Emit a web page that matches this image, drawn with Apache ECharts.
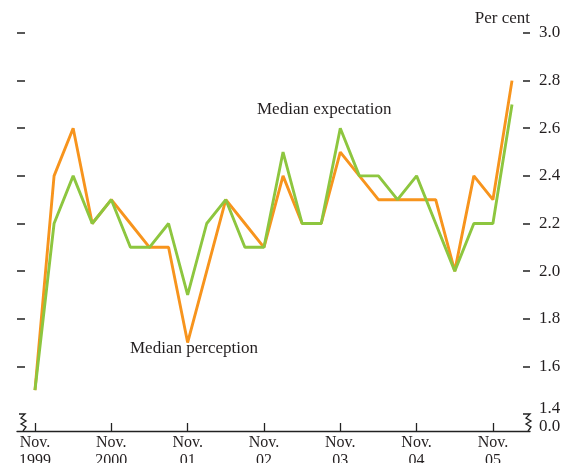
<!DOCTYPE html>
<html>
<head>
<meta charset="utf-8">
<script src="https://cdn.jsdelivr.net/npm/echarts@6/dist/echarts.min.js"></script>
<style>
  html, body { margin: 0; padding: 0; background: #fff; }
  #chart { width: 563px; height: 463px; }
</style>
</head>
<body>
<div id="chart"></div>
<script>
// quarterly survey, Nov 1999 to Feb 2006
var quarters = ['Nov 1999', 'Feb 2000', 'May 2000', 'Aug 2000', 'Nov 2000', 'Feb 2001', 'May 2001', 'Aug 2001',
    'Nov 2001', 'Feb 2002', 'May 2002', 'Aug 2002', 'Nov 2002', 'Feb 2003', 'May 2003', 'Aug 2003',
    'Nov 2003', 'Feb 2004', 'May 2004', 'Aug 2004', 'Nov 2004', 'Feb 2005', 'May 2005', 'Aug 2005',
    'Nov 2005', 'Feb 2006'];
var perception = [1.5, 2.4, 2.6, 2.2, 2.3, 2.2, 2.1, 2.1, 1.7, 2.0, 2.3, 2.2, 2.1,
    2.4, 2.2, 2.2, 2.5, 2.4, 2.3, 2.3, 2.3, 2.3, 2.0, 2.4, 2.3, 2.8];
var expectation = [1.5, 2.2, 2.4, 2.2, 2.3, 2.1, 2.1, 2.2, 1.9, 2.2, 2.3, 2.1, 2.1,
    2.5, 2.2, 2.2, 2.6, 2.4, 2.4, 2.3, 2.4, 2.2, 2.0, 2.2, 2.2, 2.7];
var xTickIndex = [0, 4, 8, 12, 16, 20, 24];
var xTickLabels = ['Nov.\n1999', 'Nov.\n2000', 'Nov.\n01', 'Nov.\n02', 'Nov.\n03', 'Nov.\n04', 'Nov.\n05'];
var yTicks = [1.6, 1.8, 2.0, 2.2, 2.4, 2.6, 2.8, 3.0];

var font = '"Liberation Serif", serif';
var textColor = '#231f20';

function pairs(values) {
    var out = [];
    for (var i = 0; i < values.length; i++) {
        out.push([i, values[i]]);
    }
    return out;
}

// axis break zigzag
function breakLine(x0, x1) {
    return [[x0, 414], [x1, 414], [x1 - 4, 418], [x1 + 1, 421], [x1 - 4, 424], [x1 + 1, 427], [x1 - 2, 431]];
}

var myChart = echarts.init(document.getElementById('chart'), null, { renderer: 'canvas' });

var option = {
    animation: false,
    backgroundColor: '#fff',
    textStyle: { fontFamily: font },
    grid: { left: 17, right: 33, top: 33, bottom: 49, containLabel: false, outerBoundsMode: 'none' },
    xAxis: {
        type: 'value',
        min: -0.943,
        max: 25.943,
        offset: 17,
        splitLine: { show: false },
        axisLine: { show: true, onZero: false, lineStyle: { color: '#222', width: 1.3 } },
        axisTick: {
            show: true, inside: true, length: 8,
            customValues: xTickIndex,
            lineStyle: { color: '#222', width: 1.3 }
        },
        axisLabel: {
            customValues: xTickIndex,
            margin: 3,
            color: textColor,
            fontFamily: font,
            fontSize: 16,
            lineHeight: 18,
            formatter: function (v) {
                var k = xTickIndex.indexOf(Math.round(v));
                return k >= 0 ? xTickLabels[k] : '';
            }
        }
    },
    yAxis: [
        {
            type: 'value',
            position: 'right',
            min: 1.4,
            max: 3.0,
            interval: 0.2,
            splitLine: { show: false },
            axisLine: { show: false, onZero: false },
            axisTick: {
                show: true, inside: true, length: 7,
                customValues: yTicks,
                lineStyle: { color: '#222', width: 1.5 }
            },
            axisLabel: {
                customValues: yTicks,
                margin: 9,
                color: textColor,
                fontFamily: font,
                fontSize: 17,
                formatter: function (v) { return v.toFixed(1); }
            }
        },
        {
            type: 'value',
            position: 'left',
            min: 1.4,
            max: 3.0,
            interval: 0.2,
            splitLine: { show: false },
            axisLine: { show: false, onZero: false },
            axisTick: {
                show: true, inside: true, length: 8,
                customValues: yTicks,
                lineStyle: { color: '#222', width: 1.5 }
            },
            axisLabel: { show: false }
        }
    ],
    series: [
        {
            name: 'Median perception',
            type: 'line',
            data: pairs(perception),
            symbol: 'none',
            lineStyle: { color: '#f7941d', width: 2.9 },
            z: 2
        },
        {
            name: 'Median expectation',
            type: 'line',
            data: pairs(expectation),
            symbol: 'none',
            lineStyle: { color: '#8dc63f', width: 2.9 },
            z: 3
        }
    ],
    graphic: [
        { type: 'text', left: 257, top: 101, style: { text: 'Median expectation', fill: textColor, font: '17px ' + font } },
        { type: 'text', left: 130, top: 340, style: { text: 'Median perception', fill: textColor, font: '17px ' + font } },
        { type: 'text', right: 33, top: 10, style: { text: 'Per cent', fill: textColor, font: '17px ' + font } },
        { type: 'text', left: 539, top: 400, style: { text: '1.4', fill: textColor, font: '17px ' + font } },
        { type: 'text', left: 539, top: 418, style: { text: '0.0', fill: textColor, font: '17px ' + font } },
        { type: 'polyline', shape: { points: breakLine(19, 25) }, style: { stroke: '#222', lineWidth: 1.3, fill: null } },
        { type: 'polyline', shape: { points: breakLine(523, 530) }, style: { stroke: '#222', lineWidth: 1.3, fill: null } }
    ]
};
myChart.setOption(option);
</script>
</body>
</html>
